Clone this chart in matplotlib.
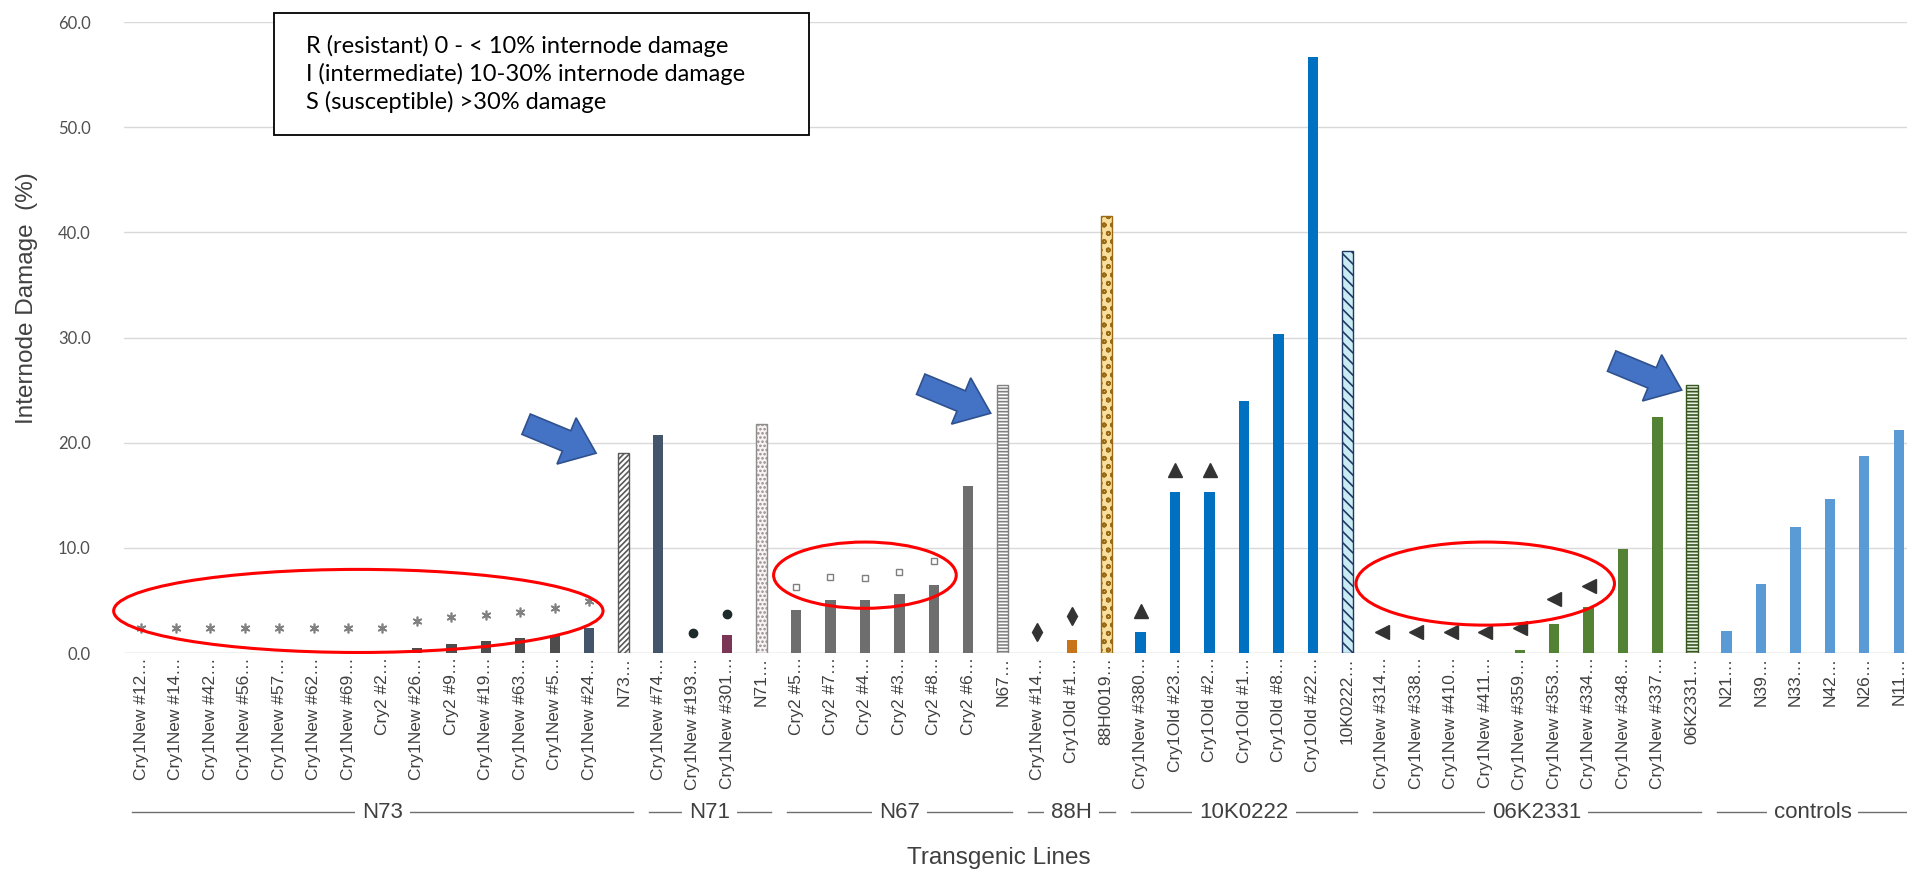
"""Internode damage of transgenic lines vs. their parent checks."""

import numpy as np
import matplotlib
matplotlib.use("Agg")
import matplotlib.pyplot as plt
from matplotlib.patches import Ellipse, Rectangle, FancyArrow
from matplotlib.transforms import IdentityTransform, blended_transform_factory

# ---- data ----
groups = ["N73", "N71", "N67", "88H", "10K0222", "06K2331", "controls"]

labels_n73 = ["Cry1New #12…", "Cry1New #14…", "Cry1New #42…", "Cry1New #56…",
              "Cry1New #57…", "Cry1New #62…", "Cry1New #69…", "Cry2 #2…",
              "Cry1New #26…", "Cry2 #9…", "Cry1New #19…", "Cry1New #63…",
              "Cry1New #5…", "Cry1New #24…", "N73…"]
labels_n71 = ["Cry1New #74…", "Cry1New #193…", "Cry1New #301…", "N71…"]
labels_n67 = ["Cry2 #5…", "Cry2 #7…", "Cry2 #4…", "Cry2 #3…", "Cry2 #8…",
              "Cry2 #6…", "N67…"]
labels_88h = ["Cry1New #14…", "Cry1Old #1…", "88H0019…"]
labels_10k = ["Cry1New #380…", "Cry1Old #23…", "Cry1Old #2…", "Cry1Old #1…",
              "Cry1Old #8…", "Cry1Old #22…", "10K0222…"]
labels_06k = ["Cry1New #314…", "Cry1New #338…", "Cry1New #410…", "Cry1New #411…",
              "Cry1New #359…", "Cry1New #353…", "Cry1New #334…", "Cry1New #348…",
              "Cry1New #337…", "06K2331…"]
labels_ctl = ["N21…", "N39…", "N33…", "N42…", "N26…", "N11…"]

damage_n73 = [0, 0, 0, 0, 0, 0, 0, 0, 0.45, 0.86, 1.1, 1.4, 1.7, 2.4, 19.0]
damage_n71 = [20.7, 0, 1.7, 21.8]
damage_n67 = [4.05, 5.0, 5.0, 5.6, 6.5, 15.9, 25.5]
damage_88h = [0, 1.25, 41.6]
damage_10k = [2.0, 15.3, 15.3, 24.0, 30.3, 56.7, 38.2]
damage_06k = [0, 0, 0, 0, 0.3, 2.8, 4.4, 9.9, 22.4, 25.5]
damage_ctl = [2.1, 6.6, 12.0, 14.6, 18.7, 21.2]

nan = np.nan
marker_n73 = [2.4] * 8 + [3.0, 3.4, 3.6, 3.9, 4.25, 4.9, nan]
marker_n71 = [nan, 1.9, 3.7, nan]
marker_n67 = [6.3, 7.2, 7.15, 7.7, 8.75, nan, nan]
marker_88h = [2.0, 3.5, nan]
marker_10k = [4.0, 17.4, 17.4, nan, nan, nan, nan]
marker_06k = [2.0, 2.0, 2.0, 2.0, 2.4, 5.1, 6.4, nan, nan, nan]
marker_ctl = [nan] * 6

legend_lines = ["R (resistant) 0 - < 10% internode damage",
                "I (intermediate) 10-30% internode damage",
                "S (susceptible) >30% damage"]

# ---- styles ----
GROUP_COLOR = {"N73": "#4D4D4D", "N71": "#44546A", "N67": "#6E6E6E", "88H": "#C8741A",
               "10K0222": "#0070C0", "06K2331": "#548235", "controls": "#5B9BD5"}
GROUP_MARKER = {"N73": dict(marker=(6, 2, 0), ms=7, mfc="#808080", mec="#808080", mew=1.2),
                "N71": dict(marker="o", ms=6, mfc="#1E2B2B", mec="#1E2B2B"),
                "N67": dict(marker="s", ms=4.5, mfc="white", mec="#7F7F7F"),
                "88H": dict(marker="d", ms=9, mfc="#333333", mec="#333333"),
                "10K0222": dict(marker="^", ms=10, mfc="#333333", mec="#333333"),
                "06K2331": dict(marker="<", ms=10, mfc="#333333", mec="#333333")}
CHECK_STYLE = {"N73": dict(fc="white", ec="#595959", hatch="//////"),
               "N71": dict(fc="#FBF3F3", ec="#8C8C8C", hatch="...."),
               "N67": dict(fc="white", ec="#808080", hatch="-----"),
               "88H": dict(fc="#F8DF9E", ec="#9A6A14", hatch="oo"),
               "10K0222": dict(fc="#C9ECF4", ec="#1F3864", hatch="\\\\\\"),
               "06K2331": dict(fc="#E8F2DF", ec="#375623", hatch="-----")}
SPECIAL_COLOR = {"Cry1New #24…": "#44546A", "Cry1New #301…": "#7B3555"}

W, H = 1907, 871
FONT = ["Liberation Sans", "DejaVu Sans"]


def main():
    plt.rcParams["font.family"] = FONT
    plt.rcParams["hatch.linewidth"] = 1.2

    labels = [labels_n73, labels_n71, labels_n67, labels_88h, labels_10k, labels_06k, labels_ctl]
    damage = [damage_n73, damage_n71, damage_n67, damage_88h, damage_10k, damage_06k, damage_ctl]
    marks = [marker_n73, marker_n71, marker_n67, marker_88h, marker_10k, marker_06k, marker_ctl]

    fig = plt.figure(figsize=(W / 100, H / 100), dpi=100)
    ax = fig.add_axes([124 / W, 1 - 653 / H, (1916 - 124) / W, (653 - 22) / H])

    start = 0
    spans = []
    for g, labs, vals, mk in zip(groups, labels, damage, marks):
        x = np.arange(start, start + len(labs))
        for i, (lab, v) in enumerate(zip(labs, vals)):
            is_check = g != "controls" and i == len(labs) - 1
            if is_check:
                st = CHECK_STYLE[g]
                ax.bar(x[i], v, width=0.32, color=st["fc"], edgecolor=st["ec"],
                       hatch=st["hatch"], linewidth=1.0, zorder=3)
            else:
                ax.bar(x[i], v, width=0.3, color=SPECIAL_COLOR.get(lab, GROUP_COLOR[g]), zorder=3)
        if g in GROUP_MARKER:
            ax.plot(x, mk, ls="none", zorder=4, **GROUP_MARKER[g])
        spans.append((start, start + len(labs) - 1))
        start += len(labs)

    all_labels = sum(labels, [])
    ax.set_xlim(-0.5, len(all_labels) - 0.5)
    ax.set_ylim(0, 60)
    ax.set_yticks(np.arange(0, 61, 10))
    ax.set_yticklabels([f"{t:.1f}" for t in np.arange(0, 61, 10)], fontsize=12,
                       color="#505050", family=["Lato", "DejaVu Sans"])
    ax.set_xticks(np.arange(len(all_labels)))
    ax.set_xticklabels(all_labels, rotation=90, fontsize=12.5, color="#404040")
    ax.tick_params(axis="both", length=0)
    ax.tick_params(axis="y", pad=24)
    ax.tick_params(axis="x", pad=3)
    for s in ax.spines.values():
        s.set_visible(False)
    ax.grid(axis="y", color="#D9D9D9", lw=1.0, zorder=0)
    ax.axhline(0, color="#D9D9D9", lw=1.0, zorder=1)

    # group labels under the tick labels
    tr = blended_transform_factory(ax.transData, fig.transFigure)
    gy = 1 - 812 / H
    for g, (a, b) in zip(groups, spans):
        ax.plot([a - 0.27, b + 0.27], [gy, gy], color="#6E6E6E", lw=1.0,
                transform=tr, clip_on=False)
        ax.text((a + b) / 2, gy, g, transform=tr, ha="center", va="center",
                fontsize=16, color="#404040",
                bbox=dict(fc="white", ec="none", pad=5))

    fig.text(0.524, 1 - 858 / H, "Transgenic Lines", ha="center", va="center",
             fontsize=17.5, color="#404040")
    fig.text(27 / W, 1 - 298 / H, "Internode Damage  (%)", ha="center", va="center",
             rotation=90, fontsize=17.5, color="#404040")

    # red ellipses round the low-damage lines
    for cx, cy, w, h in [(6.3, 4.0, 14.2, 7.9), (21.0, 7.4, 5.3, 6.3), (39.0, 6.6, 7.5, 7.9)]:
        ax.add_patch(Ellipse((cx, cy), w, h, fill=False, ec="#FF0000", lw=2.2,
                             zorder=6, clip_on=False))

    # blue arrows pointing at the parent checks
    fig.canvas.draw()
    for tx, ty in [(14 - 0.8, 19.0), (25 - 0.35, 22.8), (45 - 0.3, 25.0)]:
        px, py = ax.transData.transform((tx, ty))
        fig.add_artist(FancyArrow(px - 70, py + 29, 70, -29, width=22, head_width=50,
                                  head_length=32, length_includes_head=True,
                                  transform=IdentityTransform(), fc="#4472C4",
                                  ec="#2F528F", lw=1.2, zorder=7))

    # rating key box
    fig.add_artist(Rectangle((274 / W, 1 - 135 / H), (809 - 274) / W, (135 - 13) / H,
                             transform=fig.transFigure, fc="white", ec="black",
                             lw=1.3, zorder=8))
    for k, line in enumerate(legend_lines):
        fig.text(306 / W, 1 - (46 + 28 * k) / H, line, ha="left", va="center",
                 fontsize=17, color="black", family=["Lato", "DejaVu Sans"], zorder=9)

    fig.savefig("out.png", dpi=100)
    plt.close(fig)


if __name__ == "__main__":
    main()
